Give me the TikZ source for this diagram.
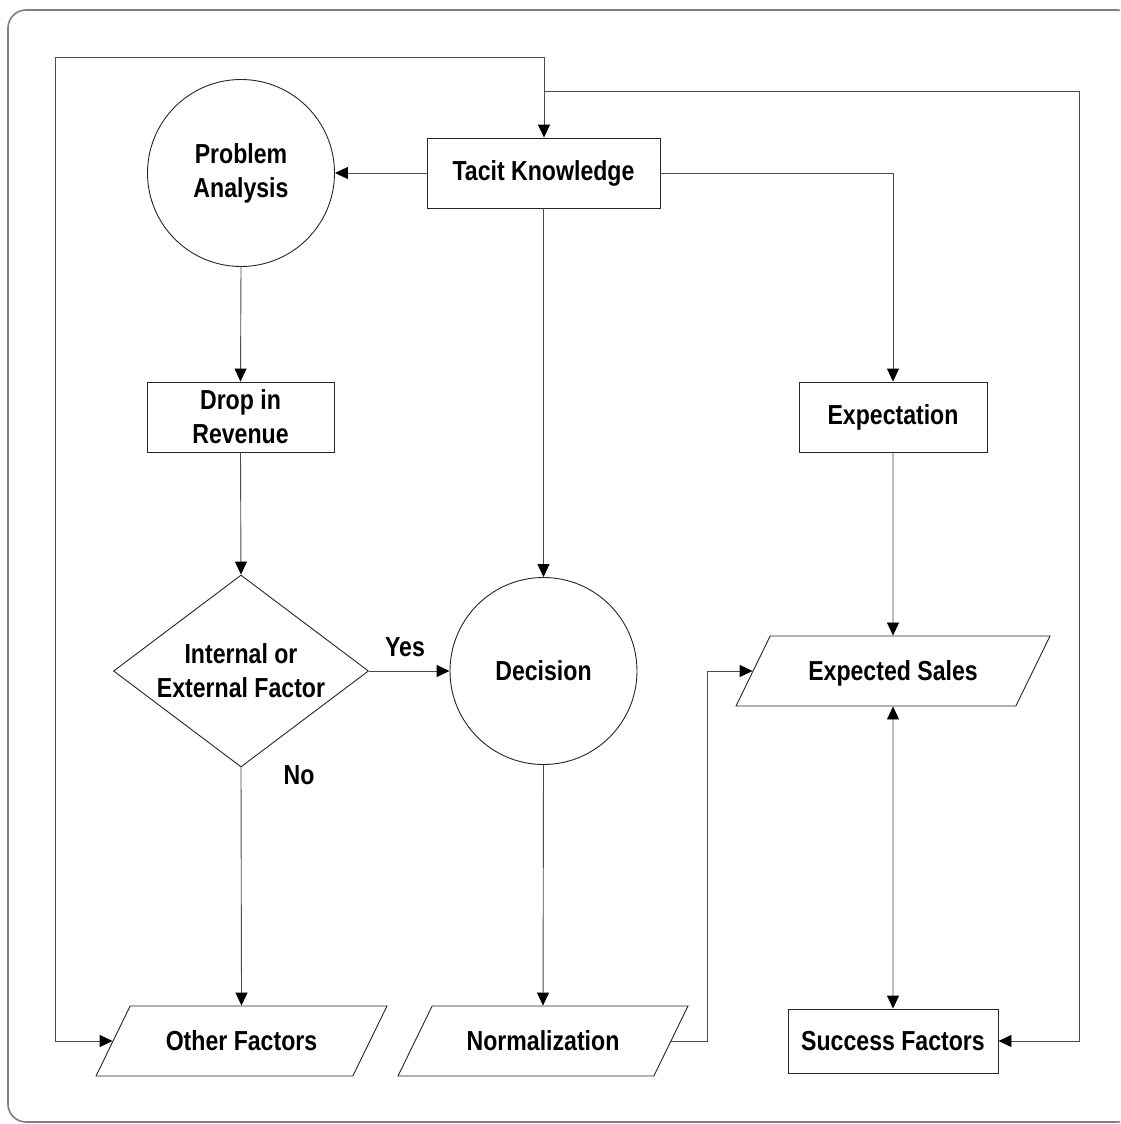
\documentclass[tikz,border=0pt]{standalone}
\usepackage{fontspec}
\setmainfont{Liberation Sans}[FakeStretch=0.84]
\usetikzlibrary{shapes.geometric,arrows.meta}
\tikzset{
  shp/.style={draw=black!85, line width=0.9pt, inner sep=0pt, align=center, fill=white},
  box/.style={shp, rectangle},
  circ/.style={shp, circle, minimum size=187pt},
  dia/.style={shp, diamond, aspect=1.33, minimum width=255pt, minimum height=192pt},
  para/.style={shp, trapezium, trapezium left angle=64, trapezium right angle=116,
    trapezium stretches body=true, text height=44pt, text depth=26pt},
  arr/.style={draw=black!70, line width=0.9pt, -{Triangle[length=13pt,width=12pt,color=black]}},
  darr/.style={draw=black!70, line width=0.9pt, {Triangle[length=13pt,width=12pt,color=black]}-{Triangle[length=13pt,width=12pt,color=black]}},
  lbl/.style={inner sep=0pt},
}
\begin{document}
\begin{tikzpicture}[x=1pt,y=-1pt,font=\bfseries\fontsize{27.5}{34}\selectfont]
\useasboundingbox (0,0) rectangle (1120,1124);
\fill[white] (0,0) rectangle (1120,1124);
\clip (0,0) rectangle (1120,1124);
\draw[black!50, line width=1.6pt, rounded corners=18pt] (8,10) rectangle (1135,1122);

% nodes
\node[box, minimum width=233pt, minimum height=70pt] (tacit) at (543.5,173) {Tacit Knowledge};
\node[circ] (pa) at (241,173) {Problem\\Analysis};
\node[box, minimum width=187pt, minimum height=70pt] (drop) at (240.5,417) {Drop in\\Revenue};
\node[dia] (dec) at (241,671) {Internal or\\External Factor};
\node[circ] (decision) at (543.5,671) {Decision};
\node[box, minimum width=188pt, minimum height=70pt] (expect) at (893,417) {Expectation};
\node[para, minimum width=314pt] (exps) at (893,671) {Expected Sales};
\node[box, minimum width=210pt, minimum height=64pt] (succ) at (893,1041) {Success Factors};
\node[para, minimum width=291pt] (other) at (241.5,1041) {Other Factors};
\node[para, minimum width=290pt] (norm) at (543,1041) {Normalization};
\node[lbl] (yes) at (405,647) {Yes};
\node[lbl] (no) at (299,775) {No};

% helper coordinates
\coordinate (ctop) at (544,57);
\coordinate (cmid) at (544,91);
\coordinate (lt) at (55,57);
\coordinate (lb) at (55,1041);
\coordinate (rt) at (1079,91);
\coordinate (nr) at (707,1041);

% connectors
\draw[arr] (tacit.west) -- (pa.east);
\draw[arr] (pa.south) -- (drop.north);
\draw[arr] (drop.south) -- (dec.north);
\draw[arr] (dec.east) -- (decision.west);
\draw[arr] (dec.south) -- (other.north);
\draw[arr] (tacit.south -| decision.north) -- (decision.north);
\draw[arr] (tacit.east) -| (expect.north);
\draw[arr] (expect.south) -- (exps.north);
\draw[darr] (exps.south) -- (succ.north);
\draw[arr] (decision.south) -- (norm.north);
\draw[arr] (norm.right side) -- (nr) |- (exps.left side);
\draw[arr] (ctop) -- (ctop |- tacit.north);
\draw[arr] (ctop) -- (lt) -- (lb) -- (other.left side);
\draw[arr] (cmid) -- (rt) |- (succ.east);
\end{tikzpicture}
\end{document}
